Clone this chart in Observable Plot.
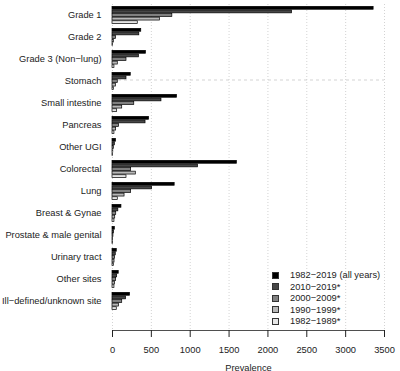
<!DOCTYPE html>
<html>
<head>
<meta charset="utf-8">
<script src="https://cdn.jsdelivr.net/npm/d3@7"></script>
<script src="https://cdn.jsdelivr.net/npm/@observablehq/plot@0.6"></script>
<style>
  html, body { margin: 0; padding: 0; background: #fff; }
  #wrap { position: relative; width: 400px; height: 371px; font-family: "Liberation Sans", Arial, sans-serif; }
  #legend { position: absolute; left: 272px; top: 269.5px; font-size: 9.3px; color: #222; }
  #legend .row { display: flex; align-items: center; height: 11.5px; white-space: nowrap; }
  #legend .sw { width: 5px; height: 5px; border: 0.8px solid #333; margin-right: 11px; }
</style>
</head>
<body>
<div id="wrap"></div>
<script>
const categories = ["Grade 1", "Grade 2", "Grade 3 (Non\u2212lung)", "Stomach", "Small intestine", "Pancreas", "Other UGI", "Colorectal", "Lung", "Breast & Gynae", "Prostate & male genital", "Urinary tract", "Other sites", "Ill\u2212defined/unknown site"];
const series = ["1982\u22122019 (all years)", "2010\u22122019*", "2000\u22122009*", "1990\u22121999*", "1982\u22121989*"];
const seriesColors = ["#000000", "#474747", "#808080", "#b8b8b8", "#e6e6e6"];
const allYears = [3360, 370, 430, 235, 830, 470, 45, 1600, 800, 115, 30, 55, 80, 225];
const y2010s   = [2310, 345, 340, 180, 630, 425, 30, 1100, 510, 75, 20, 42, 60, 175];
const y2000s   = [770, 45, 180, 68, 280, 85, 17, 240, 240, 48, 12, 34, 47, 125];
const y1990s   = [610, 17, 68, 43, 125, 47, 10, 300, 155, 35, 8, 26, 34, 85];
const y1980s   = [325, 6, 25, 17, 60, 25, 5, 180, 68, 25, 5, 17, 25, 55];
const xTicks = [0, 500, 1000, 1500, 2000, 2500, 3000, 3500];
const xLabel = "Prevalence";

const valueArrays = [allYears, y2010s, y2000s, y1990s, y1980s];
const rows = [];
series.forEach((s, si) => categories.forEach((c, ci) => rows.push({category: c, series: s, value: valueArrays[si][ci]})));

const W = 400, H = 371, mT = 4, mB = 41, mL = 112, mR = 16;
const padOuter = 0.176;
const bw = (H - mT - mB) / (categories.length + 2 * padOuter);
const bh = 3.6;
const gpad = (bw - series.length * bh) / 2;

const barMarks = series.map((s, i) => Plot.barX(rows.filter(d => d.series === s), {
  x: "value", y: "category", fill: "series",
  stroke: "#000", strokeWidth: 0.7,
  insetTop: gpad + i * bh, insetBottom: bw - gpad - (i + 1) * bh
}));

const chart = Plot.plot({
  width: W, height: H,
  marginTop: mT, marginBottom: mB, marginLeft: mL, marginRight: mR,
  style: {fontFamily: "'Liberation Sans', Arial, sans-serif", fontSize: "9.3px", color: "#222", background: "#fff"},
  x: {domain: [0, 3500]},
  y: {domain: categories, paddingInner: 0, paddingOuter: padOuter, align: 0},
  color: {domain: series, range: seriesColors},
  marks: [
    Plot.gridX(xTicks, {stroke: "#c8c8c8", strokeOpacity: 1, strokeDasharray: "1,2", strokeWidth: 0.8}),
    Plot.ruleY([categories[3]], {y: d => d, x1: 0, x2: 3500, dy: -1.5, stroke: "#c8c8c8", strokeDasharray: "3,3", strokeWidth: 0.8}),
    ...barMarks,
    Plot.frame({anchor: "bottom", stroke: "#222", strokeWidth: 0.8}),
    Plot.axisY({tickSize: 0, tickPadding: 11, fontSize: 9.3, label: null}),
    Plot.axisX(xTicks, {tickSize: 7, tickPadding: 9, tickFormat: d => String(d), fontSize: 9.3, label: xLabel, labelAnchor: "center", labelArrow: "none", labelOffset: 40})
  ]
});
const wrap = document.getElementById("wrap");
wrap.appendChild(chart);

const legend = d3.select(wrap).append("div").attr("id", "legend");
series.forEach((s, i) => {
  const r = legend.append("div").attr("class", "row");
  r.append("div").attr("class", "sw").style("background", seriesColors[i]);
  r.append("span").text(s);
});
</script>
</body>
</html>
